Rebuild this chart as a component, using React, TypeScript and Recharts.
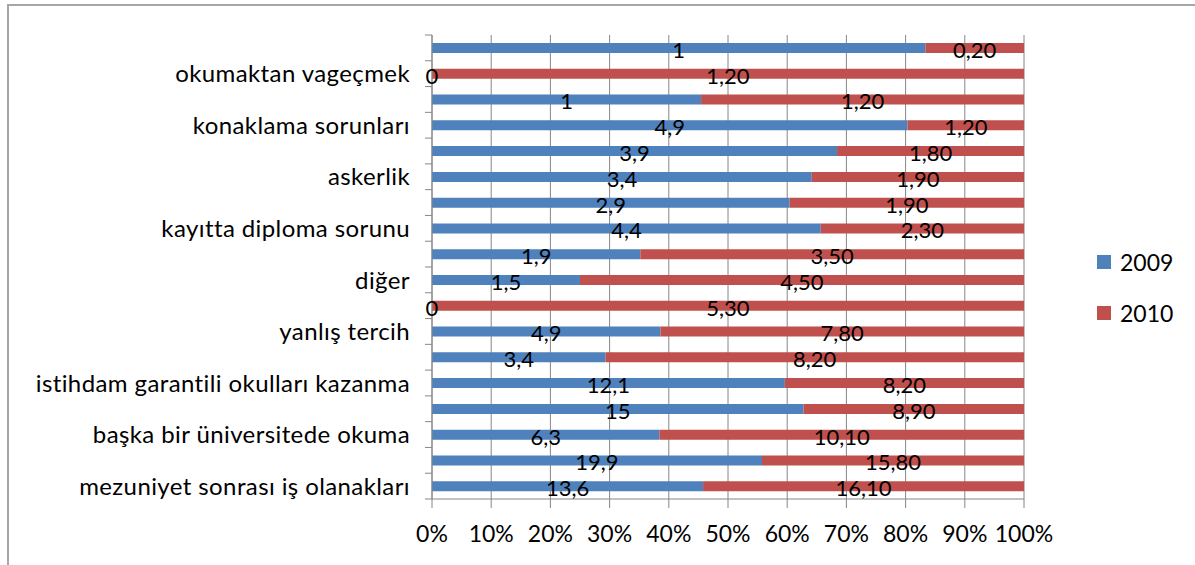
import { BarChart, Bar, XAxis, YAxis, CartesianGrid, Legend, LabelList } from 'recharts'

// categories, top to bottom as they appear (only every second one is labelled)
const categories = [
  '',
  'okumaktan vageçmek',
  '',
  'konaklama sorunları',
  '',
  'askerlik',
  '',
  'kayıtta diploma sorunu',
  '',
  'diğer',
  '',
  'yanlış tercih',
  '',
  'istihdam garantili okulları kazanma',
  '',
  'başka bir üniversitede okuma',
  '',
  'mezuniyet sonrası iş olanakları',
]

const values2009 = [1, 0, 1, 4.9, 3.9, 3.4, 2.9, 4.4, 1.9, 1.5, 0, 4.9, 3.4, 12.1, 15, 6.3, 19.9, 13.6]
const values2010 = [0.2, 1.2, 1.2, 1.2, 1.8, 1.9, 1.9, 2.3, 3.5, 4.5, 5.3, 7.8, 8.2, 8.2, 8.9, 10.1, 15.8, 16.1]

const seriesNames = ['2009', '2010']
const xTicks = [0, 0.1, 0.2, 0.3, 0.4, 0.5, 0.6, 0.7, 0.8, 0.9, 1]

const FONT = 'Lato, "Noto Sans", sans-serif'
const BLUE = '#4F81BD'
const RED = '#C0504D'
const AXIS = '#868686'
const PLOT_H = 464

const data = categories.map((name, i) => ({
  key: 'c' + i,
  name,
  y2009: values2009[i],
  y2010: values2010[i],
}))

const fmt2009 = (v: any) => String(v).replace('.', ',')
const fmt2010 = (v: any) => Number(v).toFixed(2).replace('.', ',')

function CategoryTick(props: any) {
  const { x, y, index } = props
  const band = PLOT_H / categories.length
  const axisX = x + 22
  return (
    <g>
      <line x1={axisX - 7} x2={axisX} y1={y + band / 2} y2={y + band / 2} stroke={AXIS} />
      {index === 0 && <line x1={axisX - 7} x2={axisX} y1={y - band / 2} y2={y - band / 2} stroke={AXIS} />}
      <text x={x} y={y} dy="0.36em" textAnchor="end" fill="#000" fontSize={24} letterSpacing={0.4} fontFamily={FONT}>
        {categories[index]}
      </text>
    </g>
  )
}

// segment labels, drawn a touch below the bar centre as in the original
function SegmentLabel(props: any) {
  const { viewBox, value, formatter } = props
  if (!viewBox) return null
  return (
    <text
      x={viewBox.x + viewBox.width / 2}
      y={viewBox.y + viewBox.height / 2 + 2}
      dy="0.36em"
      textAnchor="middle"
      fill="#000"
      fontSize={22}
      fontFamily={FONT}
    >
      {formatter(value)}
    </text>
  )
}

// zero-width 2009 segments get no label of their own, so draw their "0" at the start of the 2010 segment
function ZeroLabel(props: any) {
  const { viewBox, value } = props
  if (value !== 0 || !viewBox) return null
  return (
    <text x={viewBox.x} y={viewBox.y + viewBox.height / 2 + 2} dy="0.36em" textAnchor="middle" fill="#000" fontSize={22} fontFamily={FONT}>
      {fmt2009(value)}
    </text>
  )
}

function LegendBox() {
  return (
    <div style={{ fontFamily: FONT, fontSize: 23, color: '#000' }}>
      {seriesNames.map((s, i) => (
        <div key={s} style={{ display: 'flex', alignItems: 'center', height: 26, marginBottom: 25 }}>
          <span style={{ width: 14, height: 14, background: i === 0 ? BLUE : RED, marginRight: 9 }} />
          <span>{s}</span>
        </div>
      ))}
    </div>
  )
}

export default function App() {
  return (
    <div style={{ position: 'absolute', left: 0, top: 0, width: 1195, height: 565, overflow: 'hidden', background: '#fff' }}>
      <div
        style={{
          position: 'absolute',
          left: 7,
          top: 4,
          width: 1300,
          height: 700,
          border: '2px solid #a6a6a6',
        }}
      />
      <BarChart
        width={1195}
        height={565}
        data={data}
        layout="vertical"
        stackOffset="expand"
        barSize={10}
        margin={{ top: 35, right: 171, left: 0, bottom: 26 }}
      >
        <CartesianGrid horizontal={false} vertical stroke={AXIS} />
        <XAxis
          type="number"
          domain={[0, 1]}
          ticks={xTicks}
          tickFormatter={(v: number) => Math.round(v * 100) + '%'}
          axisLine={{ stroke: AXIS }}
          tickLine={{ stroke: AXIS }}
          tickSize={9}
          tickMargin={18}
          height={40}
          tick={{ fill: '#000', fontSize: 23, fontFamily: FONT }}
        />
        <YAxis
          type="category"
          dataKey="key"
          width={432}
          axisLine={{ stroke: AXIS }}
          tickLine={false}
          tickSize={7}
          tickMargin={15}
          interval={0}
          tick={<CategoryTick />}
        />
        <Legend
          layout="horizontal"
          verticalAlign="middle"
          content={<LegendBox />}
          wrapperStyle={{ position: 'absolute', left: 1097, top: 249, width: 98 }}
        />
        <Bar dataKey="y2009" name={seriesNames[0]} stackId="s" fill={BLUE} isAnimationActive={false}>
          <LabelList dataKey="y2009" content={<SegmentLabel formatter={fmt2009} />} />
        </Bar>
        <Bar dataKey="y2010" name={seriesNames[1]} stackId="s" fill={RED} isAnimationActive={false}>
          <LabelList dataKey="y2010" content={<SegmentLabel formatter={fmt2010} />} />
          <LabelList dataKey="y2009" content={<ZeroLabel />} />
        </Bar>
      </BarChart>
    </div>
  )
}
